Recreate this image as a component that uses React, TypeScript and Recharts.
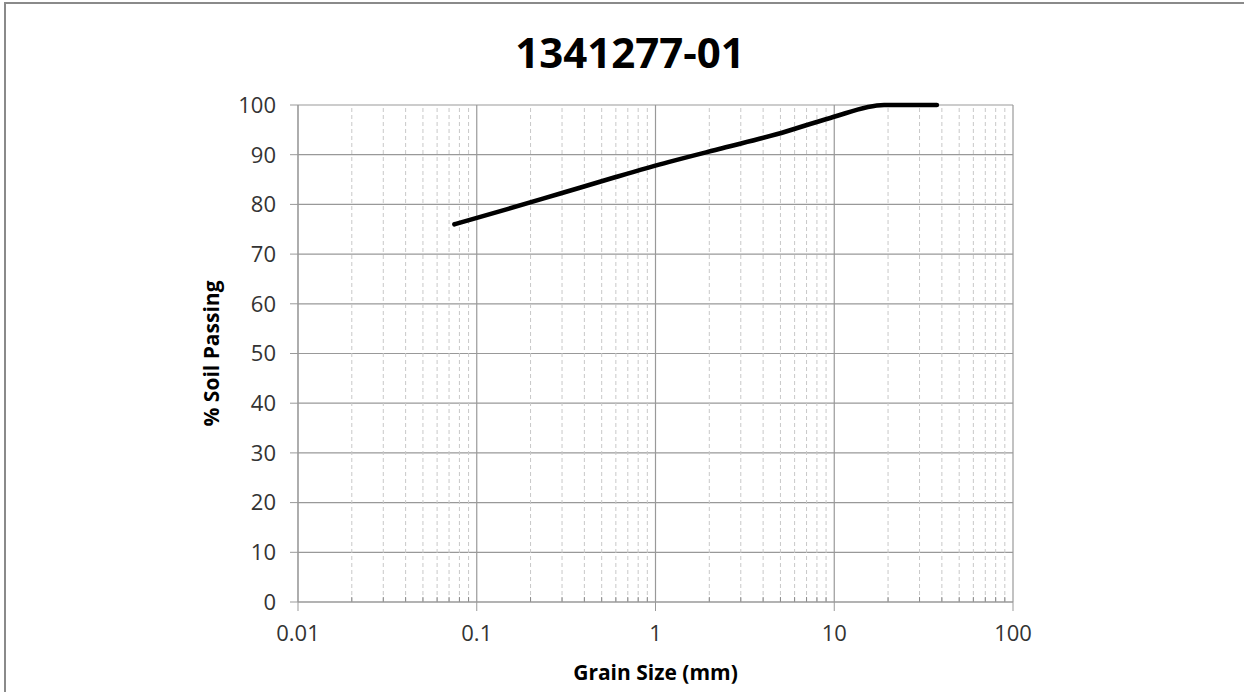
import { LineChart, Line, XAxis, YAxis, CartesianGrid, ReferenceLine, Label } from "recharts";

const sieveSizes = [0.075, 0.15, 0.3, 0.6, 1.18, 2.36, 4.75, 9.5, 19, 25, 37.5];
const percentPassing = [76, 79.1, 82.3, 85.5, 88.5, 91.3, 94.1, 97.4, 100, 100, 100];

const xMajorTicks = [0.01, 0.1, 1, 10, 100];
const yTicks = [0, 10, 20, 30, 40, 50, 60, 70, 80, 90, 100];
const xMinorTicks = [
  0.02, 0.03, 0.04, 0.05, 0.06, 0.07, 0.08, 0.09,
  0.2, 0.3, 0.4, 0.5, 0.6, 0.7, 0.8, 0.9,
  2, 3, 4, 5, 6, 7, 8, 9,
  20, 30, 40, 50, 60, 70, 80, 90,
];

const data = sieveSizes.map((size, i) => ({ size, passing: percentPassing[i] }));

const FONT = "'Open Sans', sans-serif";

export default function App() {
  return (
    <div
      style={{
        position: "absolute",
        left: 0,
        top: 0,
        width: 1244,
        height: 692,
        overflow: "hidden",
        background: "#fff",
        fontFamily: FONT,
      }}
    >
      {/* chart frame, only its left and top edges are in view */}
      <div
        style={{
          position: "absolute",
          left: 4,
          top: 2,
          width: 1300,
          height: 800,
          border: "2px solid #8a8a8a",
        }}
      />
      <div
        style={{
          position: "absolute",
          left: 0,
          top: 31,
          width: 1260,
          textAlign: "center",
          fontSize: 42,
          fontWeight: 700,
          lineHeight: 1,
          color: "#000",
        }}
      >
        1341277-01
      </div>
      <div style={{ position: "absolute", left: 0, top: 0 }}>
        <LineChart width={1244} height={692} data={data} margin={{ top: 105, right: 231, bottom: 0, left: 0 }}>
          <CartesianGrid stroke="#999" strokeWidth={1.2} />
          {xMinorTicks.map((v) => (
            <ReferenceLine key={`g-${v}`} x={v} stroke="#c8c8c8" strokeDasharray="4 3" />
          ))}
          {xMinorTicks.map((v) => (
            <ReferenceLine
              key={`t-${v}`}
              segment={[
                { x: v, y: 0 },
                { x: v, y: 1 },
              ]}
              stroke="#888"
            />
          ))}
          <XAxis
            dataKey="size"
            type="number"
            scale="log"
            domain={[0.01, 100]}
            ticks={xMajorTicks}
            allowDataOverflow
            height={90}
            tickSize={9}
            tickMargin={14}
            stroke="#999"
            tick={{ fill: "#333", fontSize: 22, fontFamily: FONT }}
          >
            <Label
              value="Grain Size (mm)"
              position="center"
              dy={26}
              style={{ fill: "#000", fontSize: 21, fontWeight: 700, fontFamily: FONT }}
            />
          </XAxis>
          <YAxis
            type="number"
            domain={[0, 100]}
            ticks={yTicks}
            width={298}
            tickSize={8}
            tickMargin={14}
            stroke="#999"
            tick={{ fill: "#333", fontSize: 22, fontFamily: FONT }}
          >
            <Label
              value="% Soil Passing"
              position="center"
              angle={-90}
              dx={63}
              style={{ fill: "#000", fontSize: 21, fontWeight: 700, fontFamily: FONT, textAnchor: "middle" }}
            />
          </YAxis>
          <Line
            type="monotone"
            dataKey="passing"
            stroke="#000"
            strokeWidth={4.6}
            strokeLinecap="round"
            dot={false}
            isAnimationActive={false}
          />
        </LineChart>
      </div>
    </div>
  );
}
